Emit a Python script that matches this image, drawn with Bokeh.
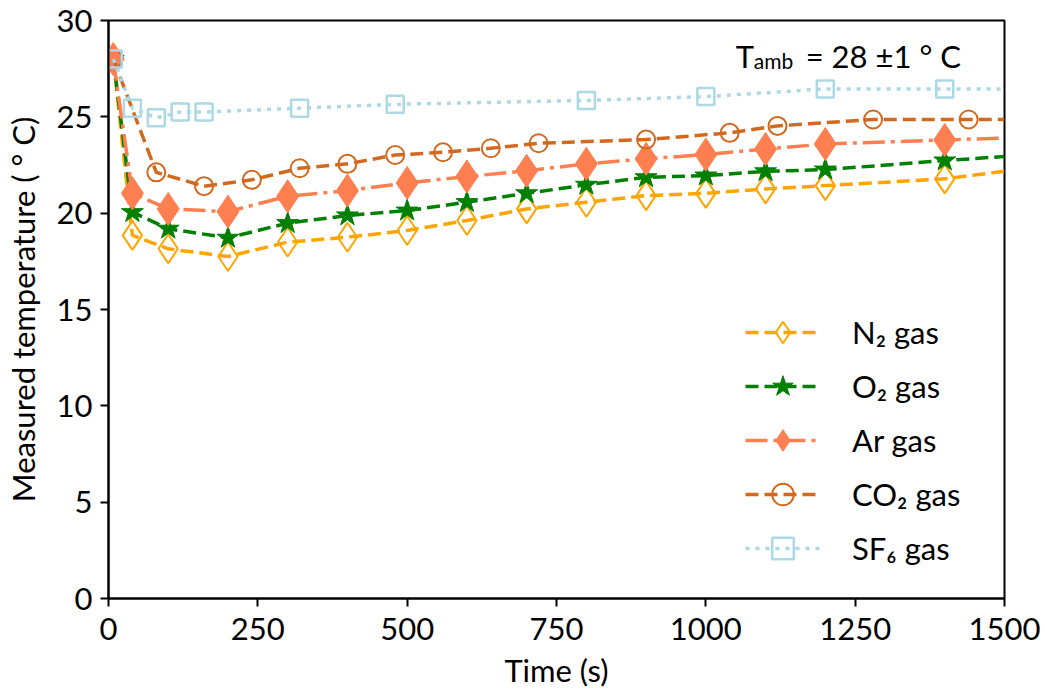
from bokeh.plotting import figure
from bokeh.models import Range1d, Label, Legend, LegendItem, FixedTicker
from bokeh.embed import file_html
from bokeh.resources import INLINE

# ---- data ----
t_std = [8, 40, 100, 200, 300, 400, 500, 600, 700, 800, 900, 1000, 1100, 1200, 1400, 1500]
n2 = [28.0, 18.85, 18.15, 17.75, 18.5, 18.75, 19.1, 19.62, 20.22, 20.57, 20.91, 21.03, 21.26, 21.43, 21.78, 22.18]
o2 = [28.0, 20.05, 19.19, 18.72, 19.48, 19.88, 20.13, 20.57, 21.03, 21.47, 21.86, 21.95, 22.17, 22.26, 22.73, 22.94]
ar = [28.0, 21.03, 20.22, 20.08, 20.88, 21.17, 21.57, 21.9, 22.2, 22.56, 22.82, 23.04, 23.33, 23.59, 23.8, 23.9]
t_co2 = [8, 80, 160, 240, 320, 400, 480, 560, 640, 720, 900, 1040, 1120, 1280, 1440, 1500]
co2 = [28.0, 22.12, 21.4, 21.73, 22.33, 22.56, 23.02, 23.16, 23.37, 23.63, 23.82, 24.17, 24.53, 24.86, 24.86, 24.86]
t_sf6 = [8, 40, 80, 120, 160, 320, 480, 800, 1000, 1200, 1400, 1500]
sf6 = [28.0, 25.45, 24.95, 25.25, 25.25, 25.45, 25.65, 25.85, 26.05, 26.45, 26.45, 26.45]
labels = ["N\u2082 gas", "O\u2082 gas", "Ar gas", "CO\u2082 gas", "SF\u2086 gas"]
x_ticks = [0, 250, 500, 750, 1000, 1250, 1500]
y_ticks = [0, 5, 10, 15, 20, 25, 30]

FONT = "Lato"
FS = "31px"

p = figure(width=1045, height=694, output_backend="svg", toolbar_location=None,
           x_range=Range1d(0, 1500), y_range=Range1d(0, 30),
           min_border_left=108, min_border_right=41, min_border_top=20, min_border_bottom=96)
p.grid.visible = False
p.outline_line_color = "black"
p.outline_line_width = 2
p.background_fill_color = "white"
p.border_fill_color = "white"

for ax in (p.xaxis[0], p.yaxis[0]):
    ax.axis_line_width = 2
    ax.major_tick_line_width = 2
    ax.major_tick_out = 8
    ax.major_tick_in = 0
    ax.minor_tick_out = 0
    ax.minor_tick_in = 0
    ax.major_label_text_font = FONT
    ax.major_label_text_font_size = FS
    ax.major_label_text_color = "black"
    ax.axis_label_text_font = FONT
    ax.axis_label_text_font_size = FS
    ax.axis_label_text_font_style = "normal"
    ax.axis_label_text_color = "black"

p.xaxis.ticker = FixedTicker(ticks=x_ticks)
p.yaxis.ticker = FixedTicker(ticks=y_ticks)
p.xaxis.axis_label = "Time (s)"
p.yaxis.axis_label = "Measured temperature ( \u00b0 C)"
p.xaxis.major_label_standoff = 11
p.yaxis.major_label_standoff = 8
p.xaxis.axis_label_standoff = 8
p.yaxis.axis_label_standoff = 12

LW = 3.5
items = []

def series(xs, ys, color, dash, marker, size, filled, label, mlw=2):
    r1 = p.line(xs, ys, line_color=color, line_width=LW, line_dash=dash)
    kw = dict(marker=marker, size=size, line_color=color, line_width=mlw)
    if filled:
        kw.update(fill_color=color)
    else:
        kw.update(fill_alpha=0)
    r2 = p.scatter(xs[:-1], ys[:-1], **kw)
    items.append(LegendItem(label=label, renderers=[r1, r2]))

series(t_std, n2, "#FFA500", "13 6", "diamond", 29, False, labels[0])
series(t_std, o2, "#008000", "13 6", "star", 23, True, labels[1], mlw=1)
series(t_std, ar, "#FF7F50", "22 6 4 6", "diamond", 33, True, labels[2], mlw=1)
series(t_co2, co2, "#D2691E", "13 6", "circle", 18, False, labels[3])
series(t_sf6, sf6, "#ADD8E6", "4 6", "square", 17, False, labels[4], mlw=2.5)

legend = Legend(items=items, location=(637, 23), padding=0, margin=0,
                border_line_alpha=0, background_fill_alpha=0,
                glyph_width=75, glyph_height=54, label_height=54, spacing=0,
                label_standoff=32, label_text_font=FONT, label_text_font_size=FS,
                label_text_color="black")
p.add_layout(legend, "center")

# annotation: T_amb = 28 +-1 C
ax_, ay_ = 1050, 28.18
p.add_layout(Label(x=ax_, y=ay_, text="T", text_font=FONT, text_font_size=FS,
                   text_baseline="alphabetic", text_color="black"))
p.add_layout(Label(x=ax_, y=ay_, x_offset=18, y_offset=-5, text="amb", text_font=FONT,
                   text_font_size="21px", text_baseline="alphabetic", text_color="black"))
p.add_layout(Label(x=ax_, y=ay_, x_offset=70, text="= 28 \u00b11 \u00b0 C", text_font=FONT,
                   text_font_size=FS, text_baseline="alphabetic", text_color="black"))

open("out.html", "w").write(file_html(p, INLINE))
